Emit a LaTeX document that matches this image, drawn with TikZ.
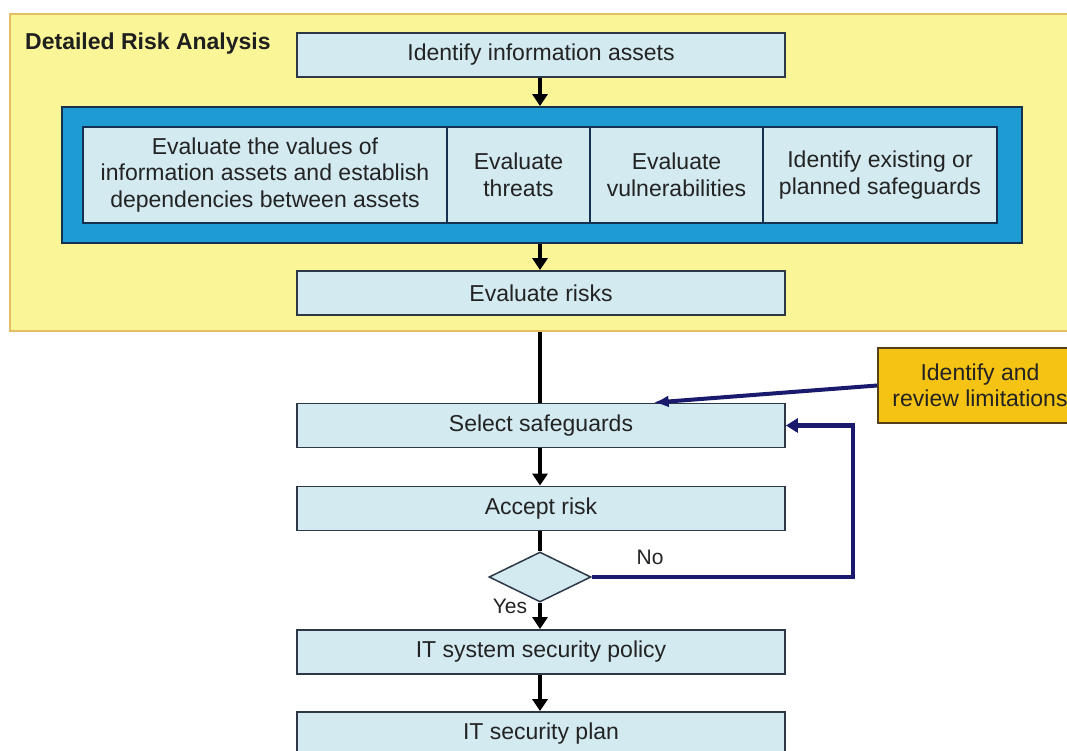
\documentclass[tikz,border=0pt]{standalone}
\usepackage{fontspec}
\setmainfont{Liberation Sans}
\usetikzlibrary{arrows.meta,shapes.geometric,calc}

\definecolor{panelyellow}{RGB}{250,245,150}
\definecolor{paneledge}{RGB}{228,190,100}
\definecolor{boxfill}{RGB}{210,234,240}
\definecolor{boxedge}{RGB}{45,55,70}
\definecolor{framefill}{RGB}{30,155,210}
\definecolor{frameedge}{RGB}{20,50,80}
\definecolor{notefill}{RGB}{245,195,20}
\definecolor{noteedge}{RGB}{85,65,25}
\definecolor{navy}{RGB}{25,25,110}
\definecolor{inktext}{RGB}{35,35,35}

\tikzset{
  boxtext/.style={font=\fontsize{23}{26.5}\selectfont, text=inktext, align=center},
  flowbox/.style={boxtext, draw=boxedge, line width=1.8pt, fill=boxfill,
    minimum width=488pt, minimum height=44pt, inner sep=0pt},
  cellbox/.style={boxtext, draw=frameedge, line width=1.5pt, fill=boxfill,
    minimum height=96pt, inner sep=0pt},
  flowarrow/.style={line width=4.5pt, black, -{Triangle[width=15pt,length=12pt]}},
  flowline/.style={line width=4.5pt, black},
  navyarrow/.style={line width=4.5pt, navy, -{Triangle[width=14pt,length=12pt]}},
  lbl/.style={font=\fontsize{21}{24}\selectfont, text=inktext, inner sep=0pt}
}

\begin{document}
\begin{tikzpicture}[x=1pt,y=-1pt]
\useasboundingbox (0,0) rectangle (1067,751);
\clip (0,0) rectangle (1067,751);
\fill[white] (0,0) rectangle (1067,751);

% detailed risk analysis panel
\node[draw=paneledge, line width=1.8pt, fill=panelyellow,
      minimum width=1065pt, minimum height=317pt, inner sep=0pt] (panel) at (542.5,172.5) {};
\node[anchor=west, font=\bfseries\fontsize{23}{27}\selectfont, text=black!88, inner sep=0pt]
      (title) at (25,44) {Detailed Risk Analysis};

\node[flowbox] (ident) at (541,55) {Identify information assets};

% evaluation frame with its four cells
\node[draw=frameedge, line width=1.8pt, fill=framefill,
      minimum width=960pt, minimum height=136pt, inner sep=0pt] (frame) at (542,175) {};
\node[cellbox, minimum width=364pt] (values) at (265,175)
      {Evaluate the values of\\information assets and establish\\dependencies between assets};
\node[cellbox, minimum width=143pt] (threats) at (518.5,175) {Evaluate\\threats};
\node[cellbox, minimum width=173pt] (vuln) at (676.5,175) {Evaluate\\vulnerabilities};
\node[cellbox, minimum width=234pt] (safe) at (880,175) {Identify existing or\\planned safeguards};

\node[flowbox] (risks) at (541,293) {Evaluate risks};

% selection and acceptance
\node[flowbox] (select) at (541,425.5) {Select safeguards};
\node[flowbox] (accept) at (541,508.5) {Accept risk};
\node[draw=boxedge, line width=1.5pt, fill=boxfill, diamond, inner sep=0pt,
      minimum width=102pt, minimum height=50pt] (decide) at (540,577) {};
\node[flowbox] (policy) at (541,652) {IT system security policy};
\node[flowbox] (plan) at (541,734) {IT security plan};

\node[boxtext, draw=noteedge, line width=1.8pt, fill=notefill,
      minimum width=204pt, minimum height=75pt, inner sep=0pt] (limits) at (980,385.5)
      {Identify and\\review limitations};

% flow connectors
\draw[flowarrow] (ident.south -| 540,0) -- (frame.north -| 540,0);
\draw[flowarrow] (frame.south -| 540,0) -- (risks.north -| 540,0);
\draw[flowline] (panel.south -| 540,0) -- (select.north -| 540,0);
\draw[flowarrow] (select.south -| 540,0) -- (accept.north -| 540,0);
\draw[flowline] (accept.south -| 540,0) -- (decide.north);
\draw[flowarrow] (decide.south) -- (policy.north -| 540,0);
\draw[flowarrow] (policy.south -| 540,0) -- (plan.north -| 540,0);

\node[lbl] (yes) at (510,606) {Yes};
\node[lbl] (no) at (650,557) {No};

% feedback loop and limitation input
\coordinate (turn) at (853,0);
\draw[navyarrow, line join=miter] (decide.east) -- (decide.east -| turn) -- (turn |- select.east) -- (select.east);
\draw[line width=4pt, navy, -{Latex[length=15pt,width=12pt]}]
      (limits.west) -- ($(select.north west)!0.73!(select.north east)$);
\end{tikzpicture}
\end{document}
